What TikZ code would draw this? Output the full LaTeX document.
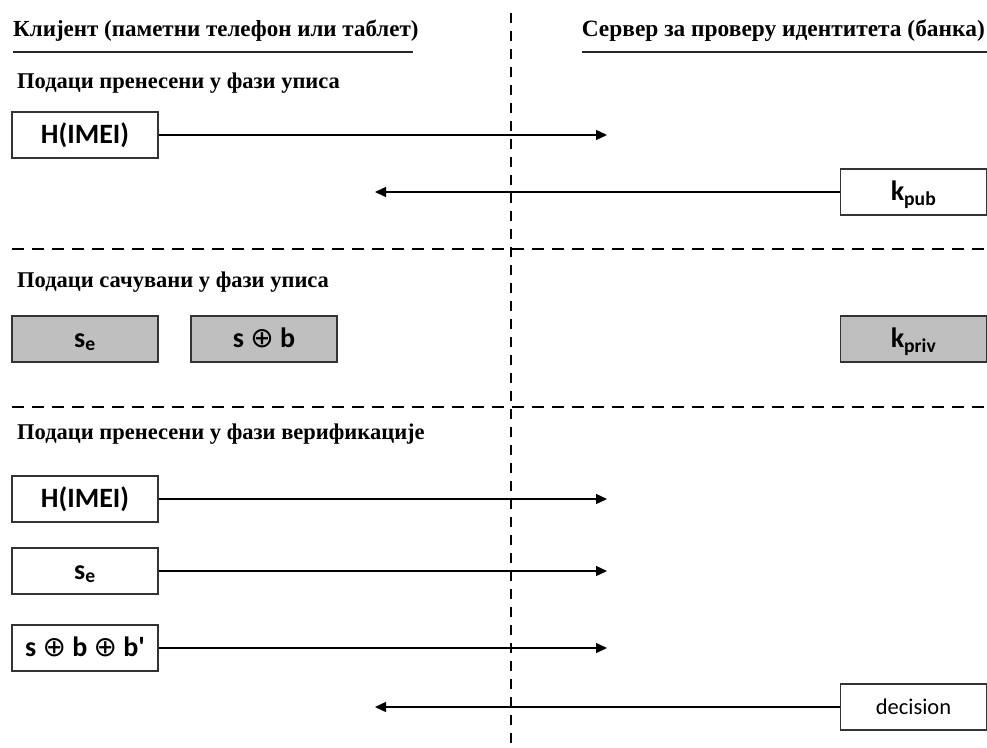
\documentclass[tikz,border=0pt]{standalone}
\usepackage{fontspec}
\setmainfont{Liberation Serif}
\newfontfamily\boxfont{Carlito}
\newfontfamily\symfont{DejaVu Sans}
\usetikzlibrary{arrows.meta}
\newcommand\xorop{{\symfont\mdseries ⊕}}

\begin{document}
\begin{tikzpicture}[x=1pt,y=-1pt,
  header/.style={font=\bfseries\fontsize{23}{26}\selectfont, inner sep=0pt},
  phase/.style={font=\bfseries\fontsize{22.5}{25}\selectfont, inner sep=0pt, anchor=west},
  msgbox/.style={draw=black!80, line width=1.6pt, minimum width=146pt, minimum height=46pt,
    inner sep=0pt, text height=16pt, text depth=0pt,
    font=\boxfont\bfseries\fontsize{28}{32}\selectfont},
  storedbox/.style={msgbox, fill=black!25},
  plainbox/.style={msgbox, text height=14pt, font=\boxfont\fontsize{22.5}{26}\selectfont},
  msg/.style={line width=1.4pt, -{Triangle[length=11pt,width=10pt]}},
  rule/.style={line width=1.4pt, black!85},
  hsep/.style={line width=1.3pt, dash pattern=on 12pt off 8pt},
  vsep/.style={line width=1.3pt, dash pattern=on 10pt off 8pt}
]
\useasboundingbox (0,0) rectangle (987,747);

% lane headers
\node[header, anchor=west] (hdrL) at (13,31) {Клијент (паметни телефон или таблет)};
\node[header, anchor=east, font=\bfseries\fontsize{23.4}{26}\selectfont] (hdrR) at (985,31)
  {Сервер за проверу идентитета (банка)};
\draw[rule] (13,52) -- (413,52);
\draw[rule] (582,52) -- (987,52);

% lane separator and phase separators
\draw[vsep] (511,13) -- (511,747);
\draw[hsep] (12,249) -- (987,249);
\draw[hsep] (12,407) -- (987,407);

% phase titles
\node[phase] (ph1) at (17,83) {Подаци пренесени у фази уписа};
\node[phase] (ph2) at (17,282) {Подаци сачувани у фази уписа};
\node[phase] (ph3) at (17,434) {Подаци пренесени у фази верификације};

% enrolment transfer
\node[msgbox] (hash1) at (85,135) {H(IMEI)};
\node[msgbox] (kpub) at (913.5,192) {k\textsubscript{pub}};
\coordinate (hash1end) at (607,135);
\coordinate (kpubend) at (375,192);
\draw[msg] (hash1) -- (hash1end);
\draw[msg] (kpub) -- (kpubend);

% stored data
\node[storedbox] (se1) at (85,339) {s\textsubscript{e}};
\node[storedbox] (sb) at (264,339) {s \xorop\ b};
\node[storedbox] (kpriv) at (913.5,339) {k\textsubscript{priv}};

% verification transfer
\node[msgbox] (hash2) at (85,499) {H(IMEI)};
\node[msgbox] (se2) at (85,571) {s\textsubscript{e}};
\node[msgbox] (sbb) at (85,648) {s \xorop\ b \xorop\ b'};
\node[plainbox] (dec) at (913.5,707) {decision};
\coordinate (hash2end) at (607,499);
\coordinate (se2end) at (607,571);
\coordinate (sbbend) at (607,648);
\coordinate (decend) at (375,707);
\draw[msg] (hash2) -- (hash2end);
\draw[msg] (se2) -- (se2end);
\draw[msg] (sbb) -- (sbbend);
\draw[msg] (dec) -- (decend);
\end{tikzpicture}
\end{document}
